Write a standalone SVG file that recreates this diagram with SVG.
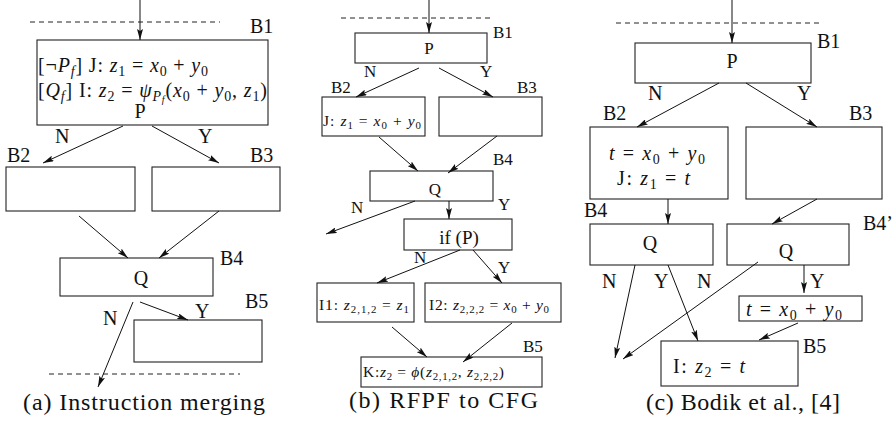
<svg xmlns="http://www.w3.org/2000/svg" width="896" height="427" viewBox="0 0 896 427">
<style>
text{font-family:"Liberation Serif","Times New Roman",serif;fill:#111;}
.l{font-size:20px;}
.s{font-size:17px;}
.m{font-size:20px;}
.ms{font-size:15.5px;}
.cap{font-size:24px;}
.i{font-style:italic;}
.sb{font-size:70%;}
rect{fill:#fff;stroke:#222;stroke-width:1.1;}
.e{stroke:#111;stroke-width:1;fill:none;marker-end:url(#ah);}
.d{stroke:#222;stroke-width:1;stroke-dasharray:5,4;fill:none;}
</style>
<defs>
<marker id="ah" markerWidth="11" markerHeight="6" refX="11" refY="3" orient="auto" markerUnits="userSpaceOnUse">
<path d="M0,0 L11,3 L0,6 L2,3 z" fill="#111"/>
</marker>
</defs>
<rect x="0" y="0" width="896" height="427" style="stroke:none"/>

<!-- Panel (a) -->
<g id="a-frame">
<path class="d" d="M30,22 H220"/>
<path class="d" d="M49,374 H240"/>
<text class="cap" x="23" y="410" textLength="242">(a) Instruction merging</text>
</g>
<g id="a-B1">
<rect x="37" y="40" width="231" height="85"/>
<text class="l" x="250" y="33">B1</text>
<text class="m" x="38" y="72" textLength="170">[¬<tspan class="i">P</tspan><tspan class="sb i" dy="4">f</tspan><tspan dy="-4">] J: </tspan><tspan class="i">z</tspan><tspan class="sb" dy="4">1</tspan><tspan dy="-4"> = </tspan><tspan class="i">x</tspan><tspan class="sb" dy="4">0</tspan><tspan dy="-4"> + </tspan><tspan class="i">y</tspan><tspan class="sb" dy="4">0</tspan></text>
<text class="m" x="38" y="97" textLength="229">[<tspan class="i">Q</tspan><tspan class="sb i" dy="4">f</tspan><tspan dy="-4">] I: </tspan><tspan class="i">z</tspan><tspan class="sb" dy="4">2</tspan><tspan dy="-4"> = </tspan><tspan class="i">ψ</tspan><tspan class="sb i" dy="4">P</tspan><tspan class="i" style="font-size:50%" dy="2">f</tspan><tspan dy="-6">(</tspan><tspan class="i">x</tspan><tspan class="sb" dy="4">0</tspan><tspan dy="-4"> + </tspan><tspan class="i">y</tspan><tspan class="sb" dy="4">0</tspan><tspan dy="-4">, </tspan><tspan class="i">z</tspan><tspan class="sb" dy="4">1</tspan><tspan dy="-4">)</tspan></text>
<text class="l" x="140" y="118" text-anchor="middle">P</text>
</g>
<g id="a-B2">
<rect x="6" y="167" width="129" height="44"/>
<text class="l" x="7" y="162">B2</text>
</g>
<g id="a-B3">
<rect x="152" y="167" width="128" height="44"/>
<text class="l" x="250" y="162">B3</text>
</g>
<g id="a-B4">
<rect x="60" y="258" width="153" height="38"/>
<text class="l" x="220" y="265">B4</text>
<text class="l" x="141" y="285" text-anchor="middle">Q</text>
</g>
<g id="a-B5">
<rect x="134" y="320" width="128" height="42"/>
<text class="l" x="245" y="308">B5</text>
</g>
<g id="a-edges">
<path class="e" d="M140,0 V40"/>
<path class="e" d="M123,126 L43,163"/>
<path class="e" d="M152,126 L219,163"/>
<path class="e" d="M79,216 L128,258"/>
<path class="e" d="M219,211 L159,258"/>
<path class="e" d="M133,302 L98,387"/>
<path class="e" d="M140,302 L188,320"/>
<text class="l" x="55" y="143">N</text>
<text class="l" x="198" y="143">Y</text>
<text class="l" x="103" y="325">N</text>
<text class="l" x="195" y="318">Y</text>
</g>

<!-- Panel (b) -->
<g id="b-frame">
<path class="d" d="M341,18 H494"/>
<text class="cap" x="349" y="408" textLength="189">(b) RFPF to CFG</text>
</g>
<g id="b-B1">
<rect x="355" y="33" width="132" height="30"/>
<text class="s" x="493" y="38">B1</text>
<text class="s" x="429" y="54" text-anchor="middle">P</text>
</g>
<g id="b-B2">
<rect x="322" y="97" width="103" height="39"/>
<text class="s" x="331" y="93">B2</text>
<text class="ms" x="323" y="126" textLength="98">J: <tspan class="i">z</tspan><tspan class="sb" dy="3">1</tspan><tspan dy="-3"> = </tspan><tspan class="i">x</tspan><tspan class="sb" dy="3">0</tspan><tspan dy="-3"> + </tspan><tspan class="i">y</tspan><tspan class="sb" dy="3">0</tspan></text>
</g>
<g id="b-B3">
<rect x="439" y="97" width="103" height="39"/>
<text class="s" x="517" y="93">B3</text>
</g>
<g id="b-B4">
<rect x="370" y="171" width="123" height="30"/>
<text class="s" x="493" y="165">B4</text>
<text class="s" x="435" y="195" text-anchor="middle">Q</text>
</g>
<g id="b-if">
<rect x="404" y="219" width="108" height="31"/>
<text x="459" y="244" text-anchor="middle" style="font-size:19px">if (P)</text>
</g>
<g id="b-I1">
<rect x="317" y="283" width="97" height="39"/>
<text class="ms" x="319" y="310" textLength="90">I1:  <tspan class="i">z</tspan><tspan class="sb" dy="3">2,1,2</tspan><tspan dy="-3"> = </tspan><tspan class="i">z</tspan><tspan class="sb" dy="3">1</tspan></text>
</g>
<g id="b-I2">
<rect x="425" y="283" width="136" height="39"/>
<text class="ms" x="429" y="310" textLength="120">I2:  <tspan class="i">z</tspan><tspan class="sb" dy="3">2,2,2</tspan><tspan dy="-3"> = </tspan><tspan class="i">x</tspan><tspan class="sb" dy="3">0</tspan><tspan dy="-3"> + </tspan><tspan class="i">y</tspan><tspan class="sb" dy="3">0</tspan></text>
</g>
<g id="b-B5">
<rect x="361" y="357" width="181" height="30"/>
<text class="s" x="523" y="352">B5</text>
<text class="ms" x="363" y="377" textLength="141">K:<tspan class="i">z</tspan><tspan class="sb" dy="3">2</tspan><tspan dy="-3"> = </tspan><tspan class="i">ϕ</tspan>(<tspan class="i">z</tspan><tspan class="sb" dy="3">2,1,2</tspan><tspan dy="-3">, </tspan><tspan class="i">z</tspan><tspan class="sb" dy="3">2,2,2</tspan><tspan dy="-3">)</tspan></text>
</g>
<g id="b-edges">
<path class="e" d="M429,0 V33"/>
<path class="e" d="M419,68 L356,97"/>
<path class="e" d="M439,68 L493,97"/>
<path class="e" d="M379,137 L418,171"/>
<path class="e" d="M497,136 L448,173"/>
<path class="e" d="M415,201 L326,234"/>
<path class="e" d="M449,201 V219"/>
<path class="e" d="M460,250 L377,283"/>
<path class="e" d="M473,250 L502,283"/>
<path class="e" d="M392,327 L427,357"/>
<path class="e" d="M512,323 L463,362"/>
<text class="s" x="364" y="77">N</text>
<text class="s" x="480" y="77">Y</text>
<text class="s" x="351" y="213">N</text>
<text class="s" x="498" y="210">Y</text>
<text class="s" x="414" y="263">N</text>
<text class="s" x="498" y="273">Y</text>
</g>

<!-- Panel (c) -->
<g id="c-frame">
<path class="d" d="M616,23 H819"/>
<text class="cap" x="646" y="410" textLength="194">(c) Bodik et al., [4]</text>
</g>
<g id="c-B1">
<rect x="635" y="43" width="176" height="40"/>
<text class="l" x="817" y="48">B1</text>
<text class="l" x="732" y="68" text-anchor="middle">P</text>
</g>
<g id="c-B2">
<rect x="590" y="127" width="138" height="72"/>
<text class="l" x="603" y="120">B2</text>
<text class="m" x="609" y="160" textLength="96"><tspan class="i">t</tspan> = <tspan class="i">x</tspan><tspan class="sb" dy="4">0</tspan><tspan dy="-4"> + </tspan><tspan class="i">y</tspan><tspan class="sb" dy="4">0</tspan></text>
<text class="m" x="617" y="185" textLength="73">J: <tspan class="i">z</tspan><tspan class="sb" dy="4">1</tspan><tspan dy="-4"> = </tspan><tspan class="i">t</tspan></text>
</g>
<g id="c-B3">
<rect x="746" y="127" width="136" height="72"/>
<text class="l" x="849" y="120">B3</text>
</g>
<g id="c-B4">
<rect x="590" y="224" width="123" height="41"/>
<text class="l" x="584" y="217">B4</text>
<text class="l" x="650" y="250" text-anchor="middle">Q</text>
</g>
<g id="c-B4p">
<rect x="727" y="224" width="122" height="41"/>
<text class="l" x="863" y="230">B4’</text>
<text class="l" x="786" y="258" text-anchor="middle">Q</text>
</g>
<g id="c-T">
<rect x="739" y="296" width="123" height="25"/>
<text class="m" x="746" y="316" textLength="96"><tspan class="i">t</tspan> = <tspan class="i">x</tspan><tspan class="sb" dy="4">0</tspan><tspan dy="-4"> + </tspan><tspan class="i">y</tspan><tspan class="sb" dy="4">0</tspan></text>
</g>
<g id="c-B5">
<rect x="661" y="341" width="137" height="45"/>
<text class="l" x="803" y="353">B5</text>
<text class="m" x="673" y="373" textLength="72">I: <tspan class="i">z</tspan><tspan class="sb" dy="4">2</tspan><tspan dy="-4"> = </tspan><tspan class="i">t</tspan></text>
</g>
<g id="c-edges">
<path class="e" d="M732,0 V43"/>
<path class="e" d="M719,83 L637,127"/>
<path class="e" d="M746,83 L817,127"/>
<path class="e" d="M668,199 V224"/>
<path class="e" d="M817,199 L772,224"/>
<path class="e" d="M635,265 L615,358"/>
<path class="e" d="M668,265 L698,341"/>
<path class="e" d="M758,262 L623,359"/>
<path class="e" d="M804,265 V293"/>
<path class="e" d="M798,323 L759,340"/>
<text class="l" x="648" y="100">N</text>
<text class="l" x="797" y="100">Y</text>
<text class="l" x="602" y="288">N</text>
<text class="l" x="654" y="288">Y</text>
<text class="l" x="697" y="288">N</text>
<text class="l" x="810" y="288">Y</text>
</g>
</svg>
